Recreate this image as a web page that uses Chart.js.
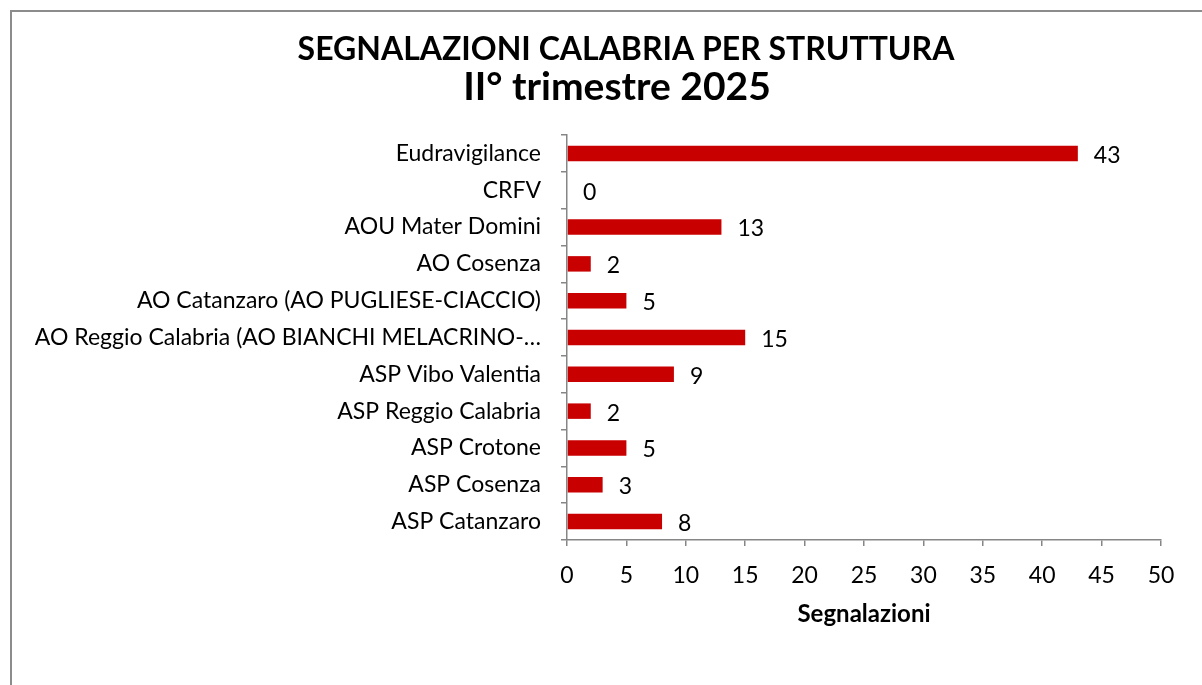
<!DOCTYPE html>
<html>
<head>
<meta charset="utf-8">
<script src="https://cdn.jsdelivr.net/npm/chart.js@4/dist/chart.umd.min.js"></script>
<style>
  html, body { margin: 0; padding: 0; background: #ffffff; }
  #wrap { position: relative; width: 1202px; height: 685px; }
</style>
</head>
<body>
<div id="wrap"><canvas id="c" width="1202" height="685"></canvas></div>
<script>
const titleLine1 = "SEGNALAZIONI CALABRIA PER STRUTTURA";
const titleLine2 = "II° trimestre 2025";
const axisTitle = "Segnalazioni";
const categories = [
  "Eudravigilance",
  "CRFV",
  "AOU Mater Domini",
  "AO Cosenza",
  "AO Catanzaro (AO PUGLIESE-CIACCIO)",
  "AO Reggio Calabria (AO BIANCHI MELACRINO-…",
  "ASP Vibo Valentia",
  "ASP Reggio Calabria",
  "ASP Crotone",
  "ASP Cosenza",
  "ASP Catanzaro"
];
const values = [43, 0, 13, 2, 5, 15, 9, 2, 5, 3, 8];
const xTicks = [0, 5, 10, 15, 20, 25, 30, 35, 40, 45, 50];

const FONT = "Lato, 'Open Sans', 'Liberation Sans', sans-serif";
const AXIS = "#868686";

const framePlugin = {
  id: "frame",
  afterDraw(chart) {
    const ctx = chart.ctx;
    ctx.save();
    ctx.strokeStyle = "#8c8c8c";
    ctx.lineWidth = 2;
    ctx.beginPath();
    ctx.moveTo(11, 685);
    ctx.lineTo(11, 11);
    ctx.lineTo(1202, 11);
    ctx.stroke();
    ctx.fillStyle = "#000";
    ctx.textAlign = "center";
    ctx.textBaseline = "middle";
    ctx.font = "bold 32px " + FONT;
    ctx.fillText(titleLine1, 626, 50);
    ctx.font = "bold 39px " + FONT;
    ctx.fillText(titleLine2, 617, 87);
    ctx.restore();
  }
};

const labelPlugin = {
  id: "barLabels",
  afterDatasetsDraw(chart) {
    const ctx = chart.ctx;
    const meta = chart.getDatasetMeta(0);
    ctx.save();
    ctx.fillStyle = "#000";
    ctx.font = "23px " + FONT;
    ctx.textAlign = "left";
    ctx.textBaseline = "middle";
    meta.data.forEach((el, i) => {
      ctx.fillText(String(values[i]), el.x + 16, el.y + 2);
    });
    ctx.restore();
  }
};

new Chart(document.getElementById("c"), {
  type: "bar",
  data: {
    labels: categories,
    datasets: [{
      data: values,
      backgroundColor: "#c80000",
      borderWidth: 0,
      categoryPercentage: 1,
      barPercentage: 0.42
    }]
  },
  options: {
    indexAxis: "y",
    responsive: false,
    animation: false,
    layout: { padding: { left: 0, right: 41, top: 135, bottom: 48 } },
    plugins: {
      legend: { display: false },
      title: { display: false },
      tooltip: { enabled: false }
    },
    scales: {
      x: {
        min: 0, max: 50,
        afterBuildTicks(scale) { scale.ticks = xTicks.map(v => ({ value: v })); },
        afterFit(scale) { scale.height = 97; },
        grid: { drawOnChartArea: false, drawTicks: true, tickLength: 6, color: AXIS, lineWidth: 1.5 },
        border: { color: AXIS, width: 1.5 },
        ticks: { color: "#000", font: { family: FONT, size: 23 }, padding: 16, maxRotation: 0 },
        title: { display: true, text: axisTitle, color: "#000", font: { family: FONT, size: 24, weight: "bold" }, padding: { top: 0, bottom: 8 } }
      },
      y: {
        afterFit(scale) { scale.width = 567; },
        grid: { offset: true, drawOnChartArea: false, drawTicks: true, tickLength: 6, color: AXIS, lineWidth: 1.5 },
        border: { color: AXIS, width: 1.5 },
        ticks: { color: "#000", font: { family: FONT, size: 23 }, padding: 20, autoSkip: false }
      }
    }
  },
  plugins: [framePlugin, labelPlugin]
});
</script>
</body>
</html>
